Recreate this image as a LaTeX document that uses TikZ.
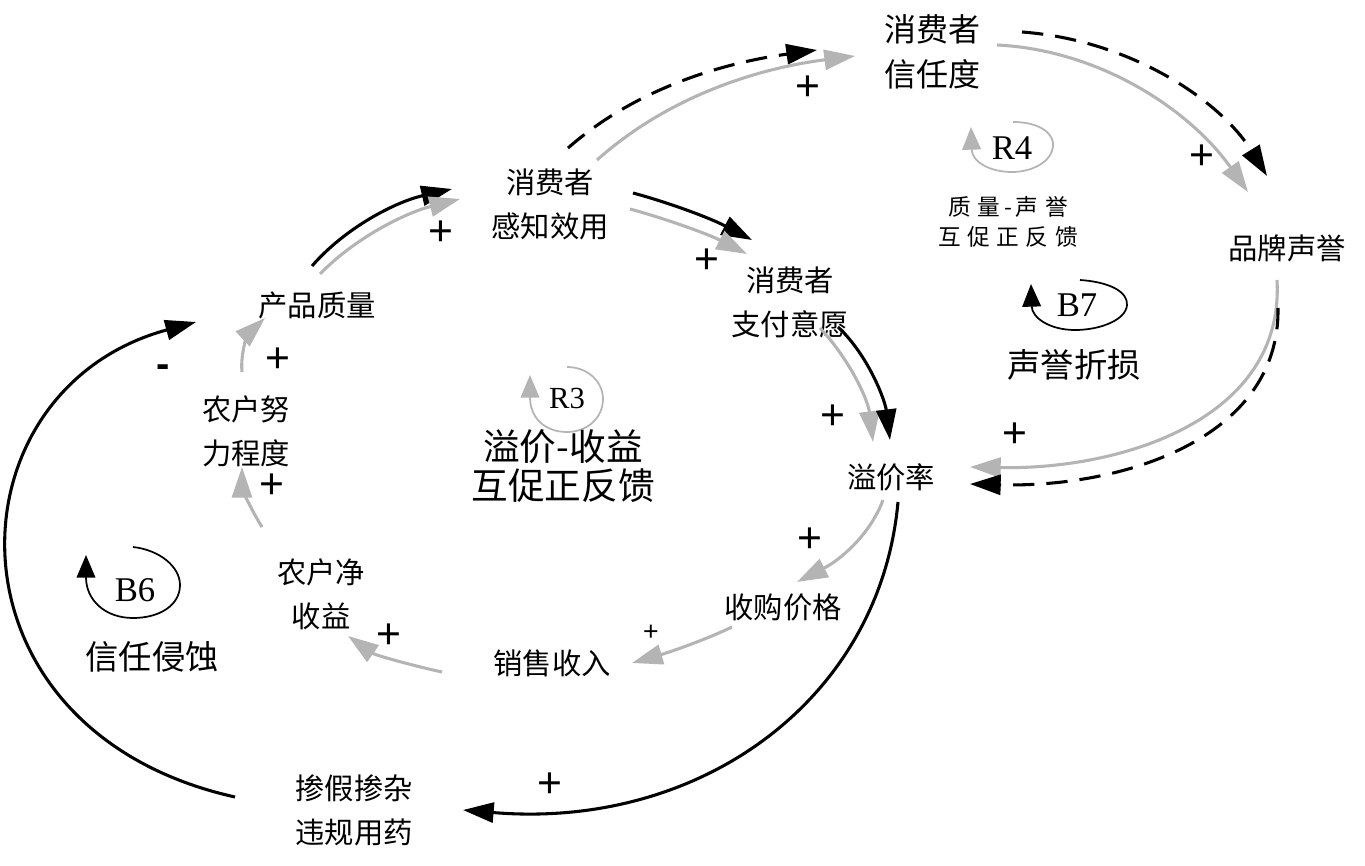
\documentclass[tikz,border=0pt]{standalone}
\usepackage{fontspec}
\setmainfont{Liberation Serif}
\newfontfamily\cjk{Noto Sans CJK SC}
\newfontfamily\plusfont{Liberation Sans}
\usetikzlibrary{arrows.meta}
\definecolor{lg}{RGB}{180,180,180}
\begin{document}
\begin{tikzpicture}[x=0.75pt,y=-0.75pt,
  every node/.style={inner sep=0pt,outer sep=0pt},
  var/.style={font=\cjk\fontsize{22}{33}\selectfont,align=center},
  bigvar/.style={font=\cjk\fontsize{24}{34}\selectfont,align=center},
  looptxt/.style={font=\cjk\fontsize{25}{30}\selectfont,align=center},
  loopname/.style={font=\fontsize{26}{30}\selectfont},
  sgn/.style={font=\plusfont\fontsize{32}{32}\selectfont},
  smallsgn/.style={font=\plusfont\fontsize{20}{20}\selectfont},
  tipb/.style={-{Triangle[length=23pt,width=15pt]}},
  blk/.style={draw=black,line width=2.3pt,tipb},
  gry/.style={draw=lg,line width=2.3pt,tipb},
  dsh/.style={blk,dash pattern=on 16pt off 9pt},
  lpg/.style={draw=lg,line width=1.3pt,-{Triangle[length=17pt,width=14pt]}},
  lpb/.style={draw=black,line width=1.3pt,-{Triangle[length=17pt,width=14pt]}}
]
\fill[white] (0,0) rectangle (1365,866);
\useasboundingbox (0,0) rectangle (1365,866);

% variables
\node[bigvar] (trust) at (932,52) {消费者\\信任度};
\node[var] (perc) at (550,204) {消费者\\感知效用};
\node[var] (wtp) at (790,302) {消费者\\支付意愿};
\node[var] (brand) at (1287,248) {品牌声誉};
\node[var] (qual) at (317,305) {产品质量};
\node[var] (effort) at (246,431) {农户努\\力程度};
\node[var] (prem) at (891,477) {溢价率};
\node[var] (net) at (321,594) {农户净\\收益};
\node[var] (buy) at (783,607) {收购价格};
\node[var] (sales) at (552,663) {销售收入};
\node[var] (adul) at (354,810) {掺假掺杂\\违规用药};

% loop markers
\draw[lpg] (1013,122) .. controls (1040,122) and (1055,134) .. (1053,147) .. controls (1051,162) and (1032,172) .. (1012,172) .. controls (990,172) and (972,162) .. (971,127);
\node[loopname] (r4) at (1012,148) {R4};
\node[font=\cjk\fontsize{17}{22.5}\selectfont,align=center] (r4t) at (1008,222) {质\kern5pt 量\kern3pt -\kern3pt 声\kern5pt 誉\\互\kern5pt 促\kern5pt 正\kern5pt 反\kern5pt 馈};

\draw[lpb] (1080,280) .. controls (1110,282) and (1128,292) .. (1127,305) .. controls (1126,320) and (1100,330) .. (1075,330) .. controls (1050,330) and (1032,318) .. (1031,284);
\node[loopname] (b7) at (1077,305) {B7};
\node[looptxt] (b7t) at (1074,365) {声誉折损};

\draw[lpg] (567,367) .. controls (588,367) and (603,382) .. (603,399) .. controls (603,418) and (587,432) .. (567,432) .. controls (545,432) and (530,418) .. (530,375);
\node[font=\fontsize{23}{25}\selectfont] (r3) at (567,398) {R3};
\node[font=\cjk\fontsize{27.5}{29}\selectfont,align=center] (r3t) at (563,466) {溢价-收益\\互促正反馈};

\draw[lpb] (133,547) .. controls (160,550) and (180,567) .. (180,585) .. controls (180,605) and (160,618) .. (133,618) .. controls (105,618) and (86,600) .. (86,555);
\node[loopname] (b6) at (135,590) {B6};
\node[looptxt] (b6t) at (152,657) {信任侵蚀};

% connector end points
\coordinate (pu1) at (568,148); \coordinate (tr1) at (817,50);
\coordinate (pu2) at (597,160); \coordinate (tr2) at (855,56);
\coordinate (tb1) at (997,45);  \coordinate (br1) at (1248,192);
\coordinate (tb2) at (1022,32); \coordinate (br2) at (1267,176);
\coordinate (bp1) at (1277,280); \coordinate (pr1) at (970,467);
\coordinate (bp2) at (1278,308); \coordinate (pr2) at (970,484);
\coordinate (wp1) at (820,328); \coordinate (pr3) at (873,442);
\coordinate (wp2) at (838,327); \coordinate (pr4) at (890,440);
\coordinate (pw1) at (633,193); \coordinate (wt1) at (752,240);
\coordinate (pw2) at (630,209); \coordinate (wt2) at (747,254);
\coordinate (qp1) at (312,266); \coordinate (pc1) at (452,189);
\coordinate (qp2) at (320,274); \coordinate (pc2) at (460,199);
\coordinate (pb1) at (883,500); \coordinate (bu1) at (797,582);
\coordinate (bs1) at (732,627); \coordinate (sa1) at (632,663);
\coordinate (sn1) at (442,672); \coordinate (ne1) at (348,636);
\coordinate (ne2) at (262,527); \coordinate (ef1) at (242,467);
\coordinate (ef2) at (242,372); \coordinate (qu1) at (265,318);
\coordinate (ad1) at (235,797); \coordinate (qu2) at (196,322);
\coordinate (pa1) at (898,502); \coordinate (ad2) at (463,810);

% connectors
\draw[dsh] (pu1) .. controls (640,85) and (730,62) .. (tr1);
\draw[gry] (pu2) .. controls (670,95) and (760,68) .. (tr2);
\draw[gry] (tb1) .. controls (1100,50) and (1190,110) .. (br1);
\draw[dsh] (tb2) .. controls (1130,40) and (1220,100) .. (br2);
\draw[gry] (bp1) .. controls (1285,420) and (1120,470) .. (pr1);
\draw[dsh] (bp2) .. controls (1280,440) and (1120,488) .. (pr2);
\draw[gry] (wp1) .. controls (850,360) and (868,400) .. (pr3);
\draw[blk] (wp2) .. controls (868,355) and (885,400) .. (pr4);
\draw[blk] (pw1) .. controls (670,203) and (710,218) .. (wt1);
\draw[gry] (pw2) .. controls (670,220) and (710,235) .. (wt2);
\draw[blk] (qp1) .. controls (345,228) and (395,202) .. (pc1);
\draw[gry] (qp2) .. controls (355,238) and (405,213) .. (pc2);
\draw[gry] (pb1) .. controls (870,535) and (840,560) .. (bu1);
\draw[gry] (bs1) .. controls (705,640) and (670,652) .. (sa1);
\draw[gry] (sn1) .. controls (410,665) and (375,655) .. (ne1);
\draw[gry] (ne2) .. controls (248,505) and (242,485) .. (ef1);
\draw[gry] (ef2) .. controls (240,350) and (250,332) .. (qu1);
\draw[blk] (ad1) .. controls (-65,730) and (-55,390) .. (qu2);
\draw[blk] (pa1) .. controls (880,700) and (700,830) .. (ad2);

% polarity signs
\node[sgn] (s1) at (808,88) {+};
\node[sgn] (s2) at (1202,157) {+};
\node[sgn] (s3) at (1015,435) {+};
\node[sgn] (s4) at (833,417) {+};
\node[sgn] (s5) at (707,261) {+};
\node[sgn] (s6) at (441,233) {+};
\node[sgn] (s7) at (810,540) {+};
\node[smallsgn] (s8) at (651,633) {+};
\node[sgn] (s9) at (389,636) {+};
\node[sgn] (s10) at (272,486) {+};
\node[sgn] (s11) at (278,360) {+};
\node[font=\plusfont\bfseries\fontsize{30}{30}\selectfont] (s12) at (163,371) {-};
\node[sgn] (s13) at (550,785) {+};
\end{tikzpicture}
\end{document}
